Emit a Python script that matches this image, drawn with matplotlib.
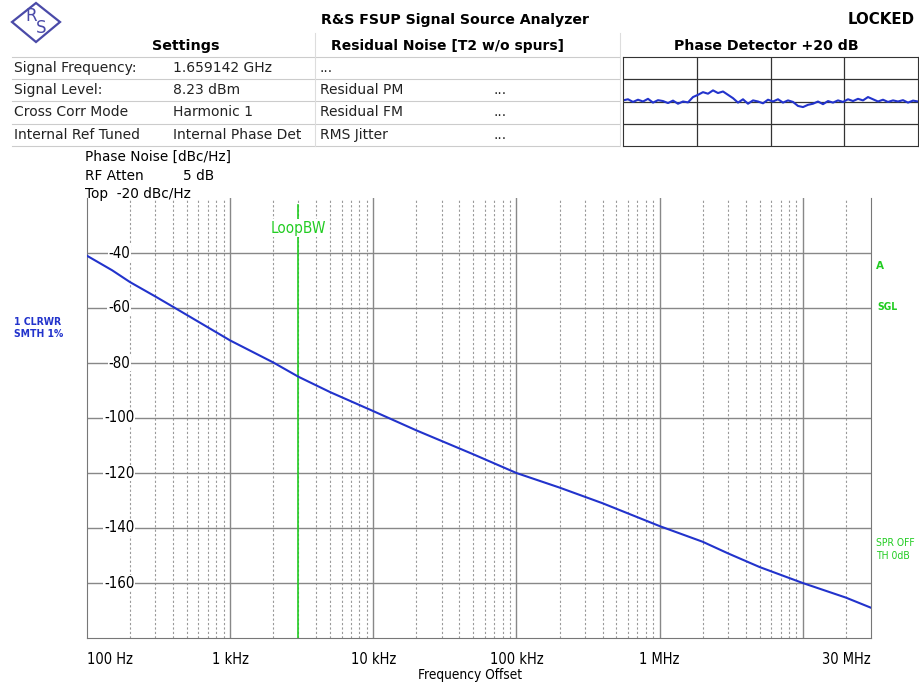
import matplotlib.pyplot as plt
import numpy as np
from matplotlib.transforms import blended_transform_factory
from matplotlib.patches import Polygon

# phase noise trace
freq_hz = [100, 150, 200, 300, 400, 600, 1e3, 2e3, 3e3, 5e3, 1e4, 2e4, 5e4,
           1e5, 2e5, 4e5, 1e6, 2e6, 3e6, 5e6, 1e7, 2e7, 3e7]
noise_dbc = [-41, -46.3, -50.6, -55.8, -59.6, -65, -71.8, -79.8, -85, -90.6, -97.5,
             -104.5, -113.2, -120, -125.3, -131, -139.3, -145, -149.2, -154.2,
             -160, -165.3, -169]

yticks = [-40, -60, -80, -100, -120, -140, -160]
xticks = [100, 1e3, 1e4, 1e5, 1e6, 3e7]
xticklabels = ["100 Hz", "1 kHz", "10 kHz", "100 kHz", "1 MHz", "30 MHz"]
loop_bw = 3e3

# phase detector mini trace (grid units, 4 rows)
pd_trace = [2.05, 2.1, 1.98, 2.08, 2.0, 2.12, 1.95, 2.06, 2.02, 1.93, 2.04, 1.9,
            2.0, 1.96, 2.2, 2.3, 2.42, 2.35, 2.5, 2.38, 2.45, 2.3, 2.15, 1.95,
            2.1, 1.9, 2.05, 2.0, 1.92, 2.08, 2.0, 2.1, 1.95, 2.05, 1.98, 1.8,
            1.75, 1.85, 1.9, 2.0, 1.88, 2.02, 1.95, 2.05, 1.98, 2.1, 2.02, 2.12,
            2.05, 2.2, 2.1, 2.0, 2.08, 1.98, 2.05, 2.0, 2.06, 1.95, 2.04, 2.0]

settings_rows = [["Signal Frequency:", "1.659142 GHz", "...", ""],
                 ["Signal Level:", "8.23 dBm", "Residual PM", "..."],
                 ["Cross Corr Mode", "Harmonic 1", "Residual FM", "..."],
                 ["Internal Ref Tuned", "Internal Phase Det", "RMS Jitter", "..."]]

W, H = 920, 682
BLUE = "#2233cc"
GREEN = "#22cc22"
narrow = ["Liberation Sans Narrow", "DejaVu Sans"]
NS = "condensed"


def px(x, y):
    return x / W, 1 - y / H


fig = plt.figure(figsize=(9.2, 6.82), dpi=100)
fig.patch.set_facecolor("white")

# ---- header ----
fig.text(*px(455, 20), "R&S FSUP Signal Source Analyzer", fontsize=10.2, weight="bold",
         ha="center", va="center")
fig.text(*px(915, 20), "LOCKED", fontsize=10.8, weight="bold", ha="right", va="center")
fig.text(*px(186, 46), "Settings", fontsize=10.3, weight="bold", ha="center", va="center")
fig.text(*px(448, 46), "Residual Noise [T2 w/o spurs]", fontsize=10, weight="bold",
         ha="center", va="center")
fig.text(*px(766, 46), "Phase Detector +20 dB", fontsize=10.2, weight="bold",
         ha="center", va="center")

# R&S logo
logo = Polygon([px(36, 3), px(60, 22), px(36, 42), px(12, 22)], closed=True,
               transform=fig.transFigure, fill=False, edgecolor="#4a4aa8", lw=1.6)
fig.patches.append(logo)
fig.text(*px(31, 16), "R", fontsize=12, color="#4a4aa8", ha="center", va="center")
fig.text(*px(41, 28), "S", fontsize=12, color="#4a4aa8", ha="center", va="center")

col_x = [14, 173, 320, 494]
row_y = [68, 90, 112, 135]
for r, row in enumerate(settings_rows):
    for c, txt in enumerate(row):
        fig.text(*px(col_x[c], row_y[r]), txt, fontsize=10, ha="left", va="center",
                 color="#222222")
for y in [57, 79, 101, 124, 146]:
    fig.add_artist(plt.Line2D([12 / W, 620 / W], [1 - y / H] * 2,
                              transform=fig.transFigure, color="#cccccc", lw=0.8))
for x in [315, 620]:
    fig.add_artist(plt.Line2D([x / W] * 2, [1 - 33 / H, 1 - 146 / H],
                              transform=fig.transFigure, color="#dddddd", lw=0.8))

# phase detector box
pd = fig.add_axes([623 / W, 1 - 146 / H, 295 / W, 89 / H])
pd.plot(np.linspace(0, 4, len(pd_trace)), pd_trace, color=BLUE, lw=1.5)
pd.set_xlim(0, 4)
pd.set_ylim(0, 4)
pd.set_xticks([1, 2, 3])
pd.set_yticks([1, 2, 3])
pd.grid(True, color="#333333", lw=0.9)
pd.tick_params(length=0, labelbottom=False, labelleft=False)
for s in pd.spines.values():
    s.set_color("#333333")

# ---- main plot ----
ax = fig.add_axes([87 / W, 1 - 638 / H, 784 / W, 440 / H])
ax.semilogx(freq_hz, noise_dbc, color=BLUE, lw=1.5, zorder=4)
ax.set_xlim(100, 3e7)
ax.set_ylim(-180, -20)

for dec in [1e2, 1e3, 1e4, 1e5, 1e6, 1e7]:
    for m in range(2, 10):
        f = dec * m
        if f < 3e7:
            ax.axvline(f, color="#999999", lw=0.8, ls=(0, (2, 2)), zorder=1)
    if dec > 100:
        ax.axvline(dec, color="#888888", lw=1.0, zorder=1)
for yv in yticks:
    ax.axhline(yv, color="#888888", lw=1.0, zorder=1)

ax.set_xticks(xticks)
ax.set_xticklabels(xticklabels, family=narrow, stretch=NS, fontsize=10.5)
ax.xaxis.set_minor_locator(plt.NullLocator())
ax.tick_params(axis="x", length=0, pad=10)
labs = ax.get_xticklabels()
labs[0].set_horizontalalignment("left")
labs[-1].set_horizontalalignment("right")
ax.set_yticks([])
ax.set_xlabel("Frequency Offset", family=narrow, stretch=NS, fontsize=9.8)
ax.xaxis.set_label_coords(0.4885, -0.068)

trans = blended_transform_factory(ax.transAxes, ax.transData)
for yv in yticks:
    ax.text(0.041, yv, str(yv), transform=trans, ha="center", va="center",
            family=narrow, stretch=NS, fontsize=10.8, zorder=3,
            bbox=dict(facecolor="white", edgecolor="none", pad=0.5))

ax.axvline(loop_bw, color=GREEN, lw=1.2, ymax=0.985, zorder=3)
ax.text(loop_bw, -31, "LoopBW", color=GREEN, ha="center", va="center",
        family=narrow, stretch=NS, fontsize=11, zorder=5,
        bbox=dict(facecolor="white", edgecolor="none", pad=1))

ax.spines["top"].set_visible(False)
for s in ["left", "right", "bottom"]:
    ax.spines[s].set_color("#777777")

# annotations outside the plot
fig.text(*px(85, 157), "Phase Noise [dBc/Hz]", fontsize=9.8, va="center")
fig.text(*px(85, 176), "RF Atten", fontsize=9.8, va="center")
fig.text(*px(183, 176), "5 dB", fontsize=9.8, va="center")
fig.text(*px(85, 194), "Top  -20 dBc/Hz", fontsize=9.8, va="center")

fig.text(*px(14, 322), "1 CLRWR", fontsize=7.5, color=BLUE, weight="bold",
         family=narrow, stretch=NS, va="center")
fig.text(*px(14, 334), "SMTH 1%", fontsize=7.5, color=BLUE, weight="bold",
         family=narrow, stretch=NS, va="center")
fig.text(*px(876, 266), "A", fontsize=7.5, color=GREEN, weight="bold", family=narrow,
         va="center")
fig.text(*px(877, 307), "SGL", fontsize=7.5, color=GREEN, weight="bold", family=narrow,
         stretch=NS, va="center")
fig.text(*px(876, 543), "SPR OFF", fontsize=7.5, color=GREEN, family=narrow, stretch=NS,
         va="center")
fig.text(*px(876, 556), "TH 0dB", fontsize=7.5, color=GREEN, family=narrow, stretch=NS,
         va="center")

plt.savefig("out.png", dpi=100)
plt.close()
